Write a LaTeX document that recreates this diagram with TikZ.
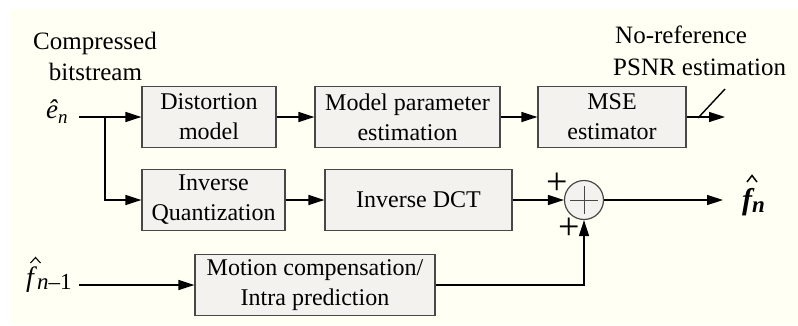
\documentclass[tikz,border=0pt]{standalone}
\usepackage{fontspec}
\setmainfont{Liberation Serif}
\usetikzlibrary{arrows.meta,calc}
\definecolor{paper}{RGB}{255,255,243}
\definecolor{boxfill}{RGB}{243,242,238}
\definecolor{boxline}{RGB}{72,72,72}
\begin{document}
\begin{tikzpicture}[x=1pt,y=-1pt,
  blk/.style={draw=boxline, line width=1.2pt, fill=boxfill, minimum height=61pt,
    inner sep=0pt, align=center, font=\fontsize{24}{30}\selectfont},
  wire/.style={line width=1.4pt},
  arr/.style={wire,-{Triangle[length=16pt,width=10pt]}},
  lbl/.style={font=\fontsize{25}{31}\selectfont, inner sep=0pt},
  sym/.style={font=\fontsize{27}{31}\selectfont, inner sep=0pt},
  plus/.style={font=\fontsize{38}{40}\selectfont, inner sep=0pt},
  hatmark/.style={line width=1.1pt, line join=miter}]
  % canvas
  \useasboundingbox (0,0) rectangle (798,325);
  \fill[white] (0,0) rectangle (798,325);
  \fill[paper] (10,9) rectangle (798,325);

  % processing blocks
  \node[blk, minimum width=134pt] (dm)   at (209,117)   {Distortion\\model};
  \node[blk, minimum width=185pt] (mpe)  at (407.5,117) {Model parameter\\estimation};
  \node[blk, minimum width=148pt] (mse)  at (612,117)   {MSE\\estimator};
  \node[blk, minimum width=143pt] (iq)   at (213.5,200) {Inverse\\Quantization};
  \node[blk, minimum width=187pt] (idct) at (418.5,200) {Inverse DCT};
  \node[blk, minimum width=240pt] (mc)   at (315,285)   {Motion compensation/\\Intra prediction};

  % summing junction
  \node[circle, draw=boxline, line width=1.2pt, fill=boxfill, minimum size=39pt,
    inner sep=0pt] (sum) at (584,200) {};
  \draw[boxline, line width=1pt] ([xshift=-14pt]sum.center) -- ([xshift=14pt]sum.center);
  \draw[boxline, line width=1pt] ([yshift=-14pt]sum.center) -- ([yshift=14pt]sum.center);
  \node[plus] (pa) at (557,184) {+};
  \node[plus] (pb) at (569,229) {+};

  % text labels
  \node[lbl, anchor=base] (cb1) at (95,49) {Compressed};
  \node[lbl, anchor=base] (cb2) at (95.5,80) {bitstream};
  \node[lbl, anchor=base west] (nr1) at (615,43) {No-reference};
  \node[lbl, anchor=base west] (nr2) at (613,75) {PSNR estimation};

  % signal names
  \node[sym, anchor=base west] (en) at (46,118)
    {\textit{ê}\raisebox{-5pt}{\fontsize{19}{20}\selectfont\textit{n}}};
  \node[sym, font=\fontsize{28}{31}\selectfont, anchor=base west] (fp) at (26,286)
    {\textit{f}\raisebox{-3pt}{\fontsize{23}{24}\selectfont\textit{n}–1}};
  \draw[hatmark] (30.5,263) -- (35.5,257.5) -- (40.5,263);
  \node[sym, font=\fontsize{30}{31}\selectfont\bfseries\itshape, anchor=base west]
    (fn) at (742,209) {f\raisebox{-3pt}{\fontsize{23}{24}\selectfont n}};
  \draw[hatmark, line width=1.5pt] (747,182) -- (752,175.5) -- (757,182);

  % connection points
  \coordinate (enout) at (79,117);
  \coordinate (split) at (105,117);
  \coordinate (fpout) at (79,285);
  \coordinate (fnin)  at (723,200);
  \coordinate (psnr)  at (725,117);

  % connectors
  \draw[arr] (enout) -- (dm.west);
  \draw[arr] (split) |- (iq.west);
  \draw[arr] (dm) -- (mpe);
  \draw[arr] (mpe) -- (mse);
  \draw[arr] (mse) -- (psnr);
  \draw[wire] (698,118) -- (725,89);
  \draw[arr] (iq) -- (idct);
  \draw[arr] (idct) -- (sum);
  \draw[arr] (fpout) -- (mc.west);
  \draw[arr] (mc.east) -| (sum.south);
  \draw[arr] (sum) -- (fnin);
\end{tikzpicture}
\end{document}
